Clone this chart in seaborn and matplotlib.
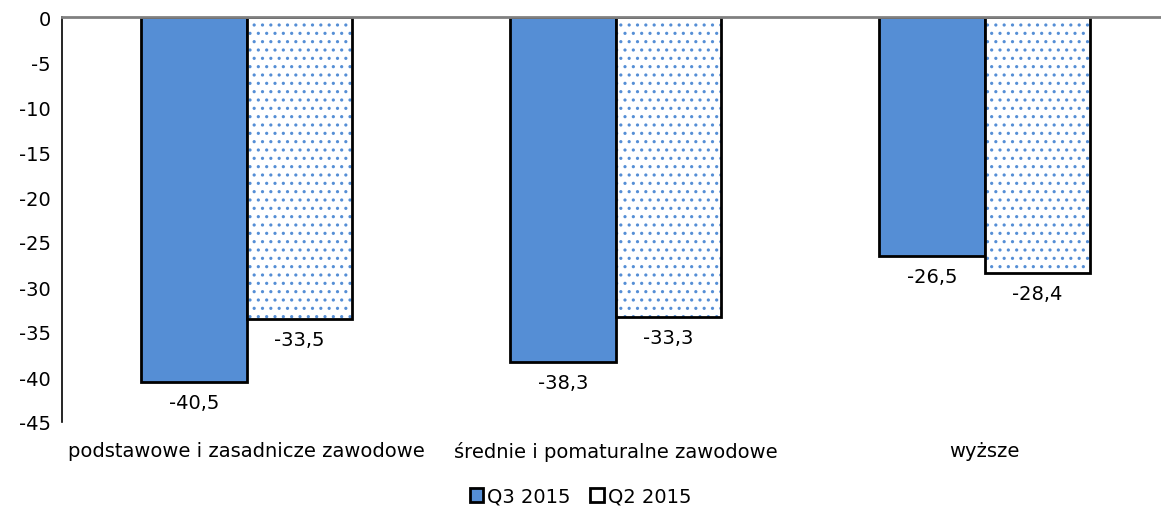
import pandas as pd
import matplotlib
matplotlib.use('Agg')
import matplotlib.pyplot as plt
from matplotlib.patches import Rectangle, Patch
import seaborn as sns

# Values
categories = ['podstawowe i zasadnicze zawodowe', 'średnie i pomaturalne zawodowe', 'wyższe']
series = ['Q3 2015', 'Q2 2015']
q3_values = [-40.5, -38.3, -26.5]
q2_values = [-33.5, -33.3, -28.4]
y_ticks = list(range(0, -50, -5))

blue = '#558ED5'
fs = 14

df = pd.DataFrame({
    'Kategoria': categories * 2,
    'Seria': [series[0]] * 3 + [series[1]] * 3,
    'Wartosc': q3_values + q2_values,
})

sns.set_style('white')
plt.rcParams['font.family'] = ['DejaVu Sans']
plt.rcParams['text.color'] = 'black'
plt.rcParams['xtick.color'] = 'black'
plt.rcParams['ytick.color'] = 'black'
plt.rcParams['hatch.linewidth'] = 1.1

fig = plt.figure(figsize=(11.61, 5.10), dpi=100)
ax = fig.add_axes([62 / 1161, 1 - 423 / 510, 1107 / 1161, 405 / 510])

sns.barplot(data=df, x='Kategoria', y='Wartosc', hue='Seria', order=categories,
            hue_order=series, palette=[blue, 'white'], width=0.57,
            edgecolor='black', linewidth=2, saturation=1, ax=ax, legend=False)

# Q2 bars: white with blue dots, black outline drawn on top
n = len(categories)
for p in ax.patches[n:2 * n]:
    p.set_facecolor('white')
    p.set_edgecolor(blue)
    p.set_linewidth(0)
    p.set_hatch('..')
    ax.add_patch(Rectangle(p.get_xy(), p.get_width(), p.get_height(), fill=False,
                           edgecolor='black', linewidth=2, zorder=p.get_zorder() + 0.1))

# Value labels below each bar end
for p in ax.patches[:2 * n]:
    v = min(p.get_y(), p.get_y() + p.get_height())
    ax.annotate(f'{v:.1f}'.replace('.', ','), (p.get_x() + p.get_width() / 2, v),
                xytext=(0, -8), textcoords='offset points', ha='center', va='top',
                fontsize=fs, color='black')

ax.set_ylim(-45, 0)
ax.set_xlim(-0.5, 2.5)
ax.set_yticks(y_ticks)
ax.set_yticklabels([str(t) for t in y_ticks])
ax.tick_params(axis='y', length=0, labelsize=fs, pad=8, labelcolor='black')
ax.tick_params(axis='x', length=0, labelsize=fs, pad=14, labelcolor='black')
ax.set_xlabel('')
ax.set_ylabel('')

for s in ['right', 'bottom']:
    ax.spines[s].set_visible(False)
ax.spines['left'].set_color('black')
ax.spines['left'].set_linewidth(1.2)
ax.spines['top'].set_color('#808080')
ax.spines['top'].set_linewidth(2)

# Legend
handles = [Patch(facecolor=blue, edgecolor='black', linewidth=2),
           Patch(facecolor='white', edgecolor='black', linewidth=2)]
fig.legend(handles, series, loc='center', bbox_to_anchor=(0.5, 1 - 497 / 510), ncol=2,
           frameon=False, fontsize=fs, handlelength=0.7, handleheight=0.7,
           handletextpad=0.2, columnspacing=1.0, labelcolor='black')

fig.savefig('out.png', dpi=100)
